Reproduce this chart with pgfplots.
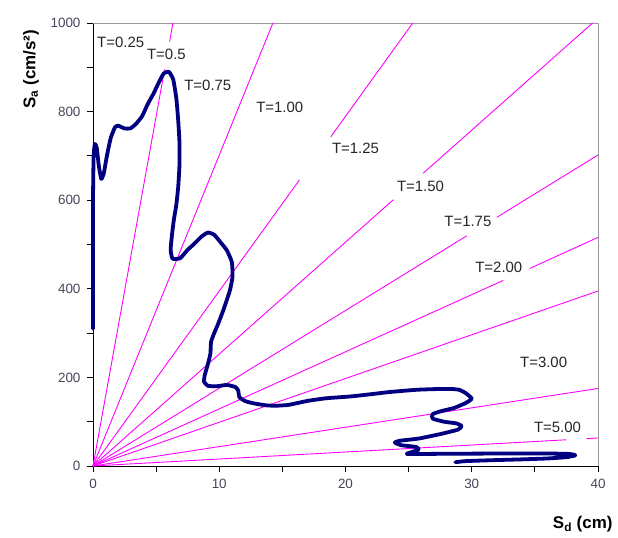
\documentclass[border=0pt]{standalone}
\usepackage{fontspec}
\setmainfont{Liberation Sans}
\usepackage{pgfplots}
\pgfplotsset{compat=1.18}
\definecolor{curve}{RGB}{0,0,128}
\definecolor{tline}{RGB}{255,0,255}
\definecolor{ticklab}{RGB}{70,70,90}
\begin{document}
\begin{tikzpicture}[
  lab/.style={anchor=west, fill=white, inner sep=1.5bp, text=black!85, font=\fontsize{15}{17}\selectfont},
]
\pgfplotsset{tl/.style={tline, line width=0.9bp, no markers, forget plot}}
\begin{axis}[
  scale only axis, width=505bp, height=443bp,
  at={(0,0)}, anchor=south west,
  xmin=0, xmax=40, ymin=0, ymax=1000,
  axis lines*=left,
  xtick={0,10,20,30,40}, minor xtick={5,15,25,35},
  ytick={0,200,400,600,800,1000}, minor ytick={100,300,500,700,900},
  tick align=outside,
  major tick length=6bp, minor tick length=6bp,
  every tick/.style={black, line width=0.8bp},
  axis line style={black, line width=0.8bp},
  /pgf/number format/1000 sep={},
  /pgf/number format/assume math mode=true,
  ticklabel style={font=\fontsize{13.5}{16}\selectfont, text=ticklab},
  xticklabel style={yshift=-4bp},
  yticklabel style={xshift=-3bp},
  xlabel={\textbf{S\textsubscript{d} (cm)}},
  ylabel={\textbf{S\textsubscript{a} (cm/s²)}},
  xlabel style={at={(axis description cs:1.0356,-0.131)}, anchor=east, font=\fontsize{17}{20}\selectfont},
  ylabel style={at={(axis description cs:-0.1228,0.896)}, anchor=center, font=\fontsize{17}{20}\selectfont},
  clip=false,
]
\draw[gray!80, line width=0.8bp] (rel axis cs:0,1) -- (rel axis cs:1,1) -- (rel axis cs:1,0);
% period lines
\addplot[tl] coordinates {(0,0) (5.67,895)};
\addplot[tl] coordinates {(6.07,958) (6.333,1000)};
\addplot[tl] coordinates {(0,0) (14.25,1000)};
\addplot[tl] coordinates {(0,0) (16.36,646)};
\addplot[tl] coordinates {(18.83,743) (25.33,1000)};
\addplot[tl] coordinates {(0,0) (23.79,601)};
\addplot[tl] coordinates {(26.16,661) (39.57,1000)};
\addplot[tl] coordinates {(0,0) (29.6,519.5)};
\addplot[tl] coordinates {(31.98,561.3) (40,702)};
\addplot[tl] coordinates {(0,0) (32.5,419)};
\addplot[tl] coordinates {(34.6,446) (40,516)};
\addplot[tl] coordinates {(0,0) (40,395)};
\addplot[tl] coordinates {(0,0) (40,175)};
\addplot[tl] coordinates {(0,0) (37.5,59.2)};
\addplot[tl] coordinates {(39.1,61.7) (40,63.2)};
% labels
\node[lab] at (axis cs:0.2,957) {T=0.25};
\node[lab] at (axis cs:4.15,930) {T=0.5};
\node[lab] at (axis cs:7.1,860) {T=0.75};
\node[lab] at (axis cs:12.8,809) {T=1.00};
\node[lab] at (axis cs:18.8,716) {T=1.25};
\node[lab] at (axis cs:23.95,632) {T=1.50};
\node[lab] at (axis cs:27.7,551) {T=1.75};
\node[lab] at (axis cs:30.15,449) {T=2.00};
\node[lab] at (axis cs:33.7,234) {T=3.00};
\node[lab] at (axis cs:34.8,88) {T=5.00};
% capacity / demand curve
\addplot[curve, line width=3.8bp, no markers, line join=round, line cap=round, smooth, tension=0.3] coordinates {
(0,310) (0,450) (0,600) (0.05,700) (0.15,727) (0.3,718) (0.45,680) (0.65,648)
(0.85,660) (1.1,700) (1.4,740) (1.75,765) (2.0,768) (2.5,762) (2.95,762)
(3.4,772) (3.9,790) (4.3,815) (4.8,841) (5.2,865) (5.6,886) (6.0,890)
(6.35,873) (6.6,830) (6.75,780) (6.85,730) (6.85,680) (6.75,630) (6.6,590)
(6.4,555) (6.25,520) (6.15,488) (6.3,468) (6.9,469) (7.5,488) (8.0,501)
(8.6,518) (9.1,527) (9.6,522) (10.1,505) (10.6,487) (11.0,460) (11.05,427)
(10.85,397) (10.6,375) (10.3,350) (9.9,320) (9.6,300) (9.35,280) (9.3,254)
(9.1,230) (8.85,205) (8.8,190) (9.1,181) (9.8,180) (10.6,183) (11.3,178)
(11.5,170) (11.6,155) (12.1,146) (12.8,141) (13.7,137) (14.5,136) (15.5,138)
(17.0,147) (18.5,153) (20.4,157) (22.0,162) (23.5,167) (25.6,172) (27,173.5)
(28.3,174) (29.0,172) (29.5,165) (30.0,152) (29.5,142) (28.6,131) (27.6,124)
(26.9,117) (26.9,107) (27.8,100) (28.8,96) (29.2,90) (28.9,82) (27.5,72)
(25.8,62) (24.3,57) (23.9,53) (24.4,47) (25.6,43) (25.8,37) (25.2,31)
(24.9,27) (27.5,27.5) (31,28) (34,28) (36.5,28) (37.8,27) (38.2,24)
(37.5,20) (36,17) (34,15) (31.5,13) (29.5,11) (28.7,8.5)
};
\end{axis}
\pgfresetboundingbox
\path[use as bounding box] (-93bp,-72bp) rectangle (525bp,466bp);
\end{tikzpicture}
\end{document}
